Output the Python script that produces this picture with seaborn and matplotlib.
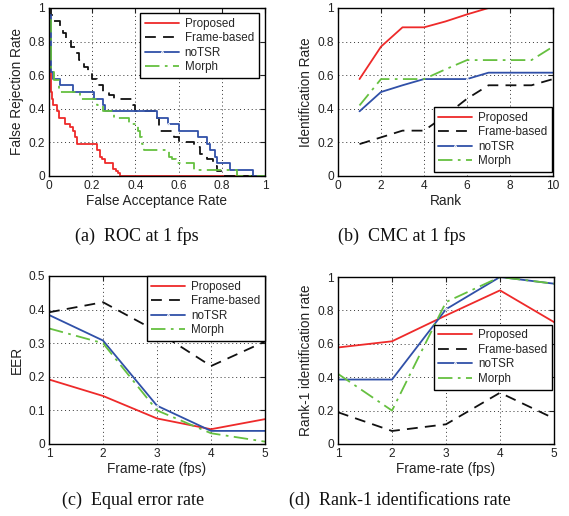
import numpy as np
import pandas as pd
import matplotlib
matplotlib.use("Agg")
import matplotlib.pyplot as plt
from matplotlib.ticker import FuncFormatter
import seaborn as sns

sns.set_theme(style="white")
plt.rcParams['font.family'] = ['Liberation Sans', 'DejaVu Sans']

series = ["Proposed", "Frame-based", "noTSR", "Morph"]
colors = {"Proposed": "#ee2a2a", "Frame-based": "#111111", "noTSR": "#3050a8", "Morph": "#66c040"}
styles = {"Proposed": "-", "Frame-based": (0, (6, 4)), "noTSR": "-", "Morph": (0, (8, 3, 1.5, 3))}

# (a) ROC at 1 fps (step curves: FAR breakpoint, FRR level)
roc_far = {
    "Proposed": [0, 0.004, 0.008, 0.012, 0.02, 0.035, 0.045, 0.075, 0.095, 0.11, 0.12, 0.13, 0.22, 0.235, 0.245, 0.26, 0.295, 0.31, 0.32, 0.33, 1.0],
    "Frame-based": [0, 0.01, 0.02, 0.05, 0.065, 0.08, 0.1, 0.12, 0.14, 0.16, 0.18, 0.2, 0.22, 0.25, 0.28, 0.3, 0.39, 0.4, 0.5, 0.51, 0.58, 0.6, 0.67, 0.7, 0.73, 0.76, 0.78, 0.8, 1.0],
    "noTSR": [0, 0.01, 0.02, 0.05, 0.11, 0.21, 0.25, 0.26, 0.5, 0.55, 0.6, 0.69, 0.73, 0.745, 0.77, 0.78, 0.84, 0.945, 1.0],
    "Morph": [0, 0.01, 0.025, 0.045, 0.145, 0.22, 0.25, 0.3, 0.37, 0.41, 0.42, 0.43, 0.44, 0.555, 0.57, 0.59, 0.67, 0.87, 1.0],
}
roc_frr = {
    "Proposed": [0.77, 0.62, 0.5, 0.46, 0.42, 0.385, 0.346, 0.31, 0.29, 0.27, 0.23, 0.19, 0.154, 0.115, 0.1, 0.077, 0.04, 0.03, 0.015, 0, 0],
    "Frame-based": [1.0, 0.96, 0.92, 0.88, 0.85, 0.81, 0.77, 0.73, 0.69, 0.65, 0.62, 0.58, 0.54, 0.5, 0.48, 0.46, 0.42, 0.385, 0.346, 0.27, 0.23, 0.205, 0.17, 0.13, 0.1, 0.06, 0.03, 0, 0],
    "noTSR": [0.96, 0.62, 0.58, 0.54, 0.5, 0.46, 0.42, 0.385, 0.346, 0.31, 0.27, 0.23, 0.19, 0.154, 0.115, 0.077, 0.038, 0, 0],
    "Morph": [0.93, 0.62, 0.57, 0.5, 0.46, 0.42, 0.385, 0.346, 0.31, 0.27, 0.23, 0.19, 0.154, 0.115, 0.1, 0.077, 0.038, 0, 0],
}

# (b) CMC at 1 fps
ranks = [1, 2, 3, 4, 5, 6, 7, 8, 9, 10]
cmc = {
    "Proposed": [0.577, 0.77, 0.885, 0.885, 0.92, 0.962, 1.0, 1.0, 1.0, 1.0],
    "Frame-based": [0.19, 0.23, 0.27, 0.27, 0.36, 0.46, 0.54, 0.54, 0.54, 0.577],
    "noTSR": [0.385, 0.5, 0.54, 0.577, 0.577, 0.577, 0.615, 0.615, 0.615, 0.615],
    "Morph": [0.42, 0.577, 0.577, 0.577, 0.635, 0.69, 0.69, 0.69, 0.69, 0.77],
}

# (c) Equal error rate, (d) Rank-1 identification rate
fps = [1, 2, 3, 4, 5]
eer = {
    "Proposed": [0.192, 0.143, 0.076, 0.044, 0.074],
    "Frame-based": [0.392, 0.422, 0.335, 0.232, 0.305],
    "noTSR": [0.384, 0.308, 0.114, 0.039, 0.039],
    "Morph": [0.344, 0.300, 0.100, 0.032, 0.007],
}
rank1 = {
    "Proposed": [0.578, 0.615, 0.77, 0.92, 0.73],
    "Frame-based": [0.19, 0.078, 0.118, 0.307, 0.153],
    "noTSR": [0.386, 0.386, 0.807, 1.0, 0.96],
    "Morph": [0.42, 0.20, 0.85, 1.0, 0.96],
}

fig = plt.figure(figsize=(5.69, 5.16), dpi=100)
W, H = 569, 516

def add_ax(l, r, t, b):
    return fig.add_axes([l / W, 1 - b / H, (r - l) / W, (b - t) / H])

ax_a = add_ax(49, 265, 8, 176)
ax_b = add_ax(338, 553, 8, 176)
ax_c = add_ax(49, 265, 276, 444)
ax_d = add_ax(338, 554, 277, 444)

fmt = FuncFormatter(lambda v, p: ("%g" % round(v, 6)))

def draw(ax, xdict, ydict, step=False):
    for s in series:
        xs = xdict[s] if isinstance(xdict, dict) else xdict
        df = pd.DataFrame({"x": xs, "y": ydict[s]})
        kw = dict(color=colors[s], linestyle=styles[s], linewidth=1.3, label=s)
        if s == "noTSR":
            kw.update(marker=".", markersize=2.5, markevery=[len(xs) // 2])
        if step:
            kw["drawstyle"] = "steps-post"
        sns.lineplot(data=df, x="x", y="y", ax=ax, sort=False, estimator=None, **kw)

def style(ax, xlim, ylim, xt, yt, xlabel, ylabel):
    ax.set_xlim(*xlim)
    ax.set_ylim(*ylim)
    ax.set_xticks(xt)
    ax.set_yticks(yt)
    ax.xaxis.set_major_formatter(fmt)
    ax.yaxis.set_major_formatter(fmt)
    ax.grid(True, linestyle=(0, (1, 3)), color="#333333", linewidth=0.7)
    ax.tick_params(direction="in", length=3.5, width=0.8, top=True, right=True,
                   labelsize=8.6, colors="#222222", pad=3)
    for sp in ax.spines.values():
        sp.set_color("black")
        sp.set_linewidth(1.0)
    ax.set_xlabel(xlabel, fontsize=9.8, labelpad=1, color="#222222")
    ax.set_ylabel(ylabel, fontsize=9.8, labelpad=3, color="#222222")

def legend(ax, **kw):
    leg = ax.legend(fontsize=8.4, frameon=True, fancybox=False, handlelength=2.9,
                    handletextpad=0.5, borderpad=0.4, labelspacing=0.22, **kw)
    leg.get_frame().set_edgecolor("black")
    leg.get_frame().set_linewidth(1.0)
    leg.get_frame().set_alpha(1)

draw(ax_a, roc_far, roc_frr, step=True)
style(ax_a, (0, 1), (0, 1), np.arange(0, 1.01, 0.2), np.arange(0, 1.01, 0.2),
      "False Acceptance Rate", "False Rejection Rate")
legend(ax_a, loc="upper right", bbox_to_anchor=(0.97, 0.97), borderaxespad=0)

draw(ax_b, ranks, cmc)
style(ax_b, (0, 10), (0, 1), np.arange(0, 11, 2), np.arange(0, 1.01, 0.2),
      "Rank", "Identification Rate")
legend(ax_b, loc="lower right", bbox_to_anchor=(0.995, 0.024), borderaxespad=0)

draw(ax_c, fps, eer)
style(ax_c, (1, 5), (0, 0.5), fps, np.arange(0, 0.51, 0.1),
      "Frame-rate (fps)", "EER")
legend(ax_c, loc="upper right", bbox_to_anchor=(1.0, 1.0), borderaxespad=0)

draw(ax_d, fps, rank1)
style(ax_d, (1, 5), (0, 1), fps, np.arange(0, 1.01, 0.2),
      "Frame-rate (fps)", "Rank-1 identification rate")
legend(ax_d, loc="center right", bbox_to_anchor=(0.99, 0.52), borderaxespad=0)

cap = dict(fontsize=13, family=["Liberation Serif", "DejaVu Serif"], ha="center", va="center", color="#111111")
fig.text(137 / W, 1 - 236 / H, "(a)  ROC at 1 fps", **cap)
fig.text(402 / W, 1 - 236 / H, "(b)  CMC at 1 fps", **cap)
fig.text(133 / W, 1 - 500 / H, "(c)  Equal error rate", **cap)
fig.text(400 / W, 1 - 500 / H, "(d)  Rank-1 identifications rate", **cap)

fig.savefig("out.png", dpi=100)
